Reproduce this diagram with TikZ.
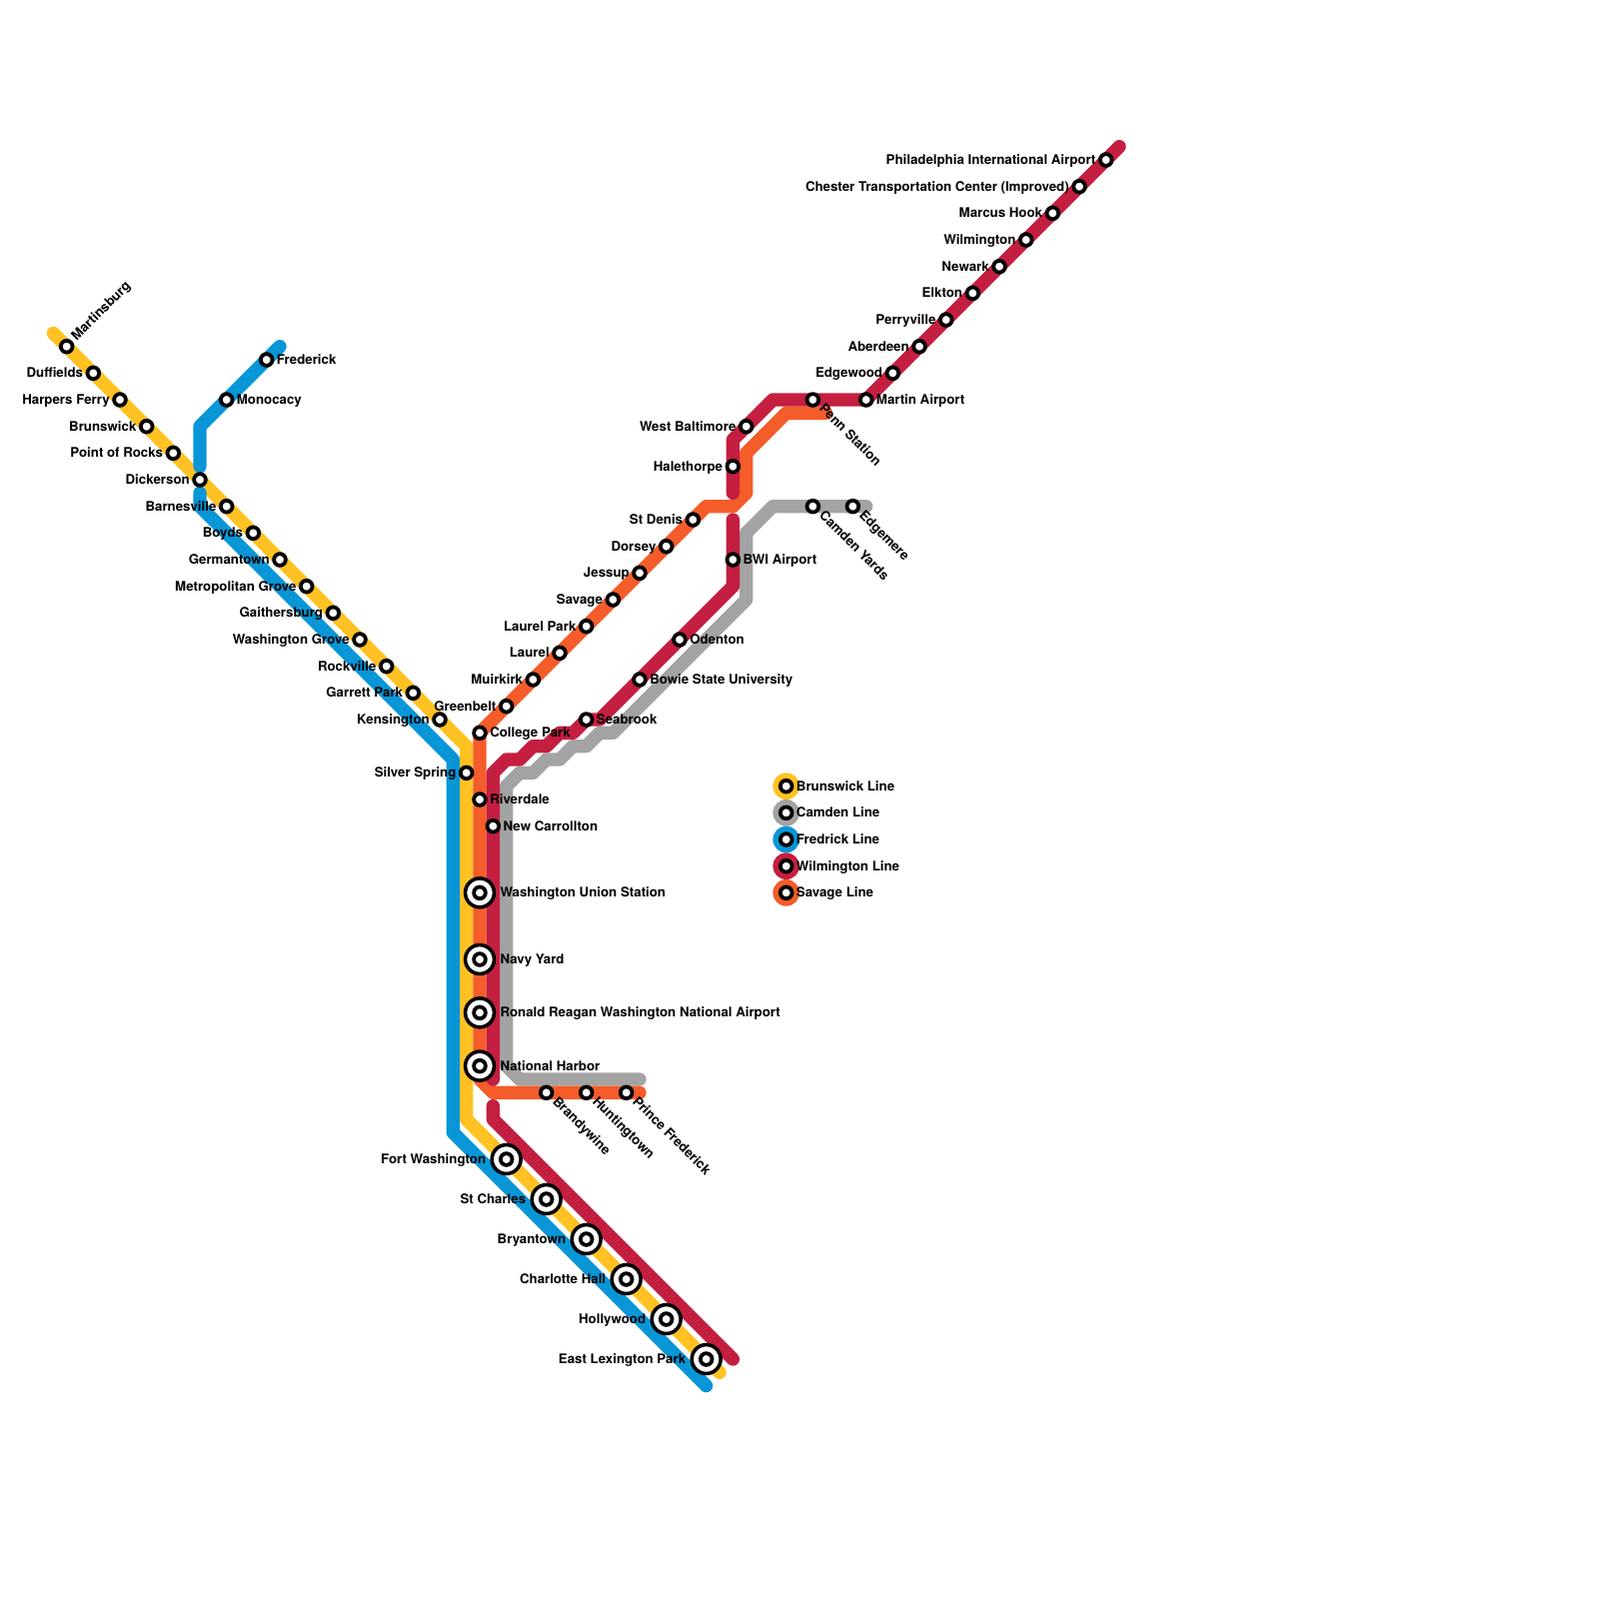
\documentclass[tikz,border=0pt]{standalone}
\usepackage{fontspec}
\setmainfont{TeX Gyre Heros}
\usetikzlibrary{backgrounds}
\definecolor{brunswick}{HTML}{FFC222}
\definecolor{camden}{HTML}{A3A3A3}
\definecolor{fredrick}{HTML}{0896D7}
\definecolor{wilmington}{HTML}{C41F40}
\definecolor{savage}{HTML}{F45C2A}
\begin{document}
\begin{tikzpicture}[
    x=3mm, y=-3mm,
    every label/.style={inner sep=0pt, font=\fontsize{8.5}{9}\selectfont\bfseries, text height=5.6pt, text depth=0pt},
    route/.style={line width=3mm, line cap=round, line join=round},
    station/.style={circle, draw=black, fill=white, line width=0.85mm, minimum size=2.63mm, inner sep=0pt},
    hub/.style={circle, draw=black, fill=white, line width=0.8mm, minimum size=6.5mm, inner sep=0pt, label={[station]center:}},
    stationl/.style={station, label={[label distance=0.5mm]left:#1}},
    stationr/.style={station, label={[label distance=0.5mm]right:#1}},
    stationup/.style={station, label={[label distance=0.9mm, rotate=45, anchor=west, text height=8pt]45:#1}},
    stationdn/.style={station, label={[label distance=0.9mm, rotate=-45, anchor=west, text height=0pt]-45:#1}},
    hubl/.style={hub, label={[label distance=0.9mm]left:#1}},
    hubr/.style={hub, label={[label distance=0.9mm]right:#1}},
    swatch/.style={circle, minimum size=6mm, inner sep=0pt}
]
  \useasboundingbox (0,0) rectangle (120,120);

  % Brunswick stations
  \node[stationup=Martinsburg] (martinsburg) at (5,26) {};
  \node[stationl=Duffields] (duffields) at (7,28) {};
  \node[stationl=Harpers Ferry] (harpersferry) at (9,30) {};
  \node[stationl=Brunswick] (brunswickstop) at (11,32) {};
  \node[stationl=Point of Rocks] (pointofrocks) at (13,34) {};
  \node[stationl=Dickerson] (dickerson) at (15,36) {};
  \node[stationl=Barnesville] (barnesville) at (17,38) {};
  \node[stationl=Boyds] (boyds) at (19,40) {};
  \node[stationl=Germantown] (germantown) at (21,42) {};
  \node[stationl=Metropolitan Grove] (metropolitan) at (23,44) {};
  \node[stationl=Gaithersburg] (gaithersburg) at (25,46) {};
  \node[stationl=Washington Grove] (washgrove) at (27,48) {};
  \node[stationl=Rockville] (rockville) at (29,50) {};
  \node[stationl=Garrett Park] (garrettpark) at (31,52) {};
  \node[stationl=Kensington] (kensington) at (33,54) {};
  \node[stationl=Silver Spring] (silverspring) at (35,58) {};
  \node[hubl=Fort Washington] (fortwashington) at (38,87) {};
  \node[hubl=St Charles] (stcharles) at (41,90) {};
  \node[hubl=Bryantown] (bryantown) at (44,93) {};
  \node[hubl=Charlotte Hall] (charlottehall) at (47,96) {};
  \node[hubl=Hollywood] (hollywood) at (50,99) {};
  \node[hubl=East Lexington Park] (lexingtonpark) at (53,102) {};

  % Fredrick stations
  \node[stationr=Frederick] (frederick) at (20,27) {};
  \node[stationr=Monocacy] (monocacy) at (17,30) {};

  % Savage stations
  \node[stationl=St Denis] (stdenis) at (52,39) {};
  \node[stationl=Dorsey] (dorsey) at (50,41) {};
  \node[stationl=Jessup] (jessup) at (48,43) {};
  \node[stationl=Savage] (savagestop) at (46,45) {};
  \node[stationl=Laurel Park] (laurelpark) at (44,47) {};
  \node[stationl=Laurel] (laurel) at (42,49) {};
  \node[stationl=Muirkirk] (muirkirk) at (40,51) {};
  \node[stationl=Greenbelt] (greenbelt) at (38,53) {};
  \node[stationr=College Park] (collegepark) at (36,55) {};
  \node[stationr=Riverdale] (riverdale) at (36,60) {};
  \node[hubr=Washington Union Station] (unionstation) at (36,67) {};
  \node[hubr=Navy Yard] (navyyard) at (36,72) {};
  \node[hubr=Ronald Reagan Washington National Airport] (reagan) at (36,76) {};
  \node[hubr=National Harbor] (nationalharbor) at (36,80) {};
  \node[stationdn=Brandywine] (brandywine) at (41,82) {};
  \node[stationdn=Huntingtown] (huntingtown) at (44,82) {};
  \node[stationdn=Prince Frederick] (princefrederick) at (47,82) {};

  % Wilmington stations
  \node[stationl=Philadelphia International Airport] (philadelphia) at (83,12) {};
  \node[stationl=Chester Transportation Center (Improved)] (chester) at (81,14) {};
  \node[stationl=Marcus Hook] (marcushook) at (79,16) {};
  \node[stationl=Wilmington] (wilmingtonstop) at (77,18) {};
  \node[stationl=Newark] (newark) at (75,20) {};
  \node[stationl=Elkton] (elkton) at (73,22) {};
  \node[stationl=Perryville] (perryville) at (71,24) {};
  \node[stationl=Aberdeen] (aberdeen) at (69,26) {};
  \node[stationl=Edgewood] (edgewood) at (67,28) {};
  \node[stationr=Martin Airport] (martinairport) at (65,30) {};
  \node[stationdn=Penn Station] (pennstation) at (61,30) {};
  \node[stationl=West Baltimore] (westbaltimore) at (56,32) {};
  \node[stationl=Halethorpe] (halethorpe) at (55,35) {};
  \node[stationr=BWI Airport] (bwiairport) at (55,42) {};
  \node[stationr=Odenton] (odenton) at (51,48) {};
  \node[stationr=Bowie State University] (bowiestate) at (48,51) {};
  \node[stationr=Seabrook] (seabrook) at (44,54) {};
  \node[stationr=New Carrollton] (newcarrollton) at (37,62) {};

  % Camden stations
  \node[stationdn=Camden Yards] (camdenyards) at (61,38) {};
  \node[stationdn=Edgemere] (edgemere) at (64,38) {};

  % Bends and free ends
  \coordinate (yellowstart) at (4,25);
  \coordinate (yellowtop) at (35,56);
  \coordinate (yellowbottom) at (35,84);
  \coordinate (yellowend) at (54,103);
  \coordinate (bluestart) at (21,26);
  \coordinate (bluebend) at (15,32);
  \coordinate (bluestub) at (15,35);
  \coordinate (bluerestart) at (15,37);
  \coordinate (bluehook) at (15,38);
  \coordinate (bluetop) at (34,57);
  \coordinate (bluebottom) at (34,85);
  \coordinate (blueend) at (53,104);
  \coordinate (orangeend) at (62,31);
  \coordinate (orangea) at (59,31);
  \coordinate (orangeb) at (56,34);
  \coordinate (orangec) at (56,37);
  \coordinate (oranged) at (55,38);
  \coordinate (orangee) at (53,38);
  \coordinate (orangef) at (36,81);
  \coordinate (orangeg) at (37,82);
  \coordinate (orangeh) at (48,82);
  \coordinate (redstart) at (84,11);
  \coordinate (reda) at (58,30);
  \coordinate (redb) at (55,33);
  \coordinate (redc) at (55,37);
  \coordinate (redd) at (55,39);
  \coordinate (rede) at (55,44);
  \coordinate (redf) at (45,54);
  \coordinate (redg) at (43,55);
  \coordinate (redh) at (42,55);
  \coordinate (redi) at (41,56);
  \coordinate (redj) at (40,56);
  \coordinate (redk) at (39,57);
  \coordinate (redl) at (38,57);
  \coordinate (redm) at (37,58);
  \coordinate (redn) at (37,81);
  \coordinate (redo) at (37,83);
  \coordinate (redp) at (37,84);
  \coordinate (redq) at (55,102);
  \coordinate (graystart) at (65,38);
  \coordinate (graya) at (58,38);
  \coordinate (grayb) at (56,40);
  \coordinate (grayc) at (56,45);
  \coordinate (grayd) at (46,55);
  \coordinate (graye) at (45,55);
  \coordinate (grayf) at (44,56);
  \coordinate (grayg) at (43,56);
  \coordinate (grayh) at (42,57);
  \coordinate (grayi) at (41,57);
  \coordinate (grayj) at (40,58);
  \coordinate (grayk) at (39,58);
  \coordinate (grayl) at (38,59);
  \coordinate (graym) at (38,80);
  \coordinate (grayn) at (39,81);
  \coordinate (grayo) at (48,81);

  % Lines go under the stations
  \begin{scope}[on background layer]
    \draw[route, draw=brunswick] (yellowstart) -- (martinsburg.center) -- (kensington.center) -- (yellowtop) -- (silverspring.center) -- (yellowbottom) -- (fortwashington.center) -- (lexingtonpark.center) -- (yellowend);
    \draw[route, draw=camden] (graystart) -- (edgemere.center) -- (camdenyards.center) -- (graya) -- (grayb) -- (grayc) -- (grayd) -- (graye) -- (grayf) -- (grayg) -- (grayh) -- (grayi) -- (grayj) -- (grayk) -- (grayl) -- (graym) -- (grayn) -- (grayo);
    \draw[route, draw=fredrick] (bluestart) -- (frederick.center) -- (monocacy.center) -- (bluebend) -- (bluestub);
    \draw[route, draw=fredrick] (bluerestart) -- (bluehook) -- (bluetop) -- (bluebottom) -- (blueend);
    \draw[route, draw=savage] (orangeend) -- (orangea) -- (orangeb) -- (orangec) -- (oranged) -- (orangee) -- (stdenis.center) -- (collegepark.center) -- (riverdale.center) -- (orangef) -- (orangeg) -- (brandywine.center) -- (princefrederick.center) -- (orangeh);
    \draw[route, draw=wilmington] (redstart) -- (philadelphia.center) -- (martinairport.center) -- (pennstation.center) -- (reda) -- (redb) -- (halethorpe.center) -- (redc);
    \draw[route, draw=wilmington] (redd) -- (bwiairport.center) -- (rede) -- (odenton.center) -- (bowiestate.center) -- (redf) -- (seabrook.center) -- (redg) -- (redh) -- (redi) -- (redj) -- (redk) -- (redl) -- (redm) -- (newcarrollton.center) -- (redn);
    \draw[route, draw=wilmington] (redo) -- (redp) -- (redq);
  \end{scope}

  % Legend
  \node[swatch, fill=brunswick] (keybrunswick) at (59,59) {};
  \node[stationr=Brunswick Line] (stopbrunswick) at (keybrunswick) {};
  \node[swatch, fill=camden] (keycamden) at (59,61) {};
  \node[stationr=Camden Line] (stopcamden) at (keycamden) {};
  \node[swatch, fill=fredrick] (keyfredrick) at (59,63) {};
  \node[stationr=Fredrick Line] (stopfredrick) at (keyfredrick) {};
  \node[swatch, fill=wilmington] (keywilmington) at (59,65) {};
  \node[stationr=Wilmington Line] (stopwilmington) at (keywilmington) {};
  \node[swatch, fill=savage] (keysavage) at (59,67) {};
  \node[stationr=Savage Line] (stopsavage) at (keysavage) {};
\end{tikzpicture}
\end{document}
